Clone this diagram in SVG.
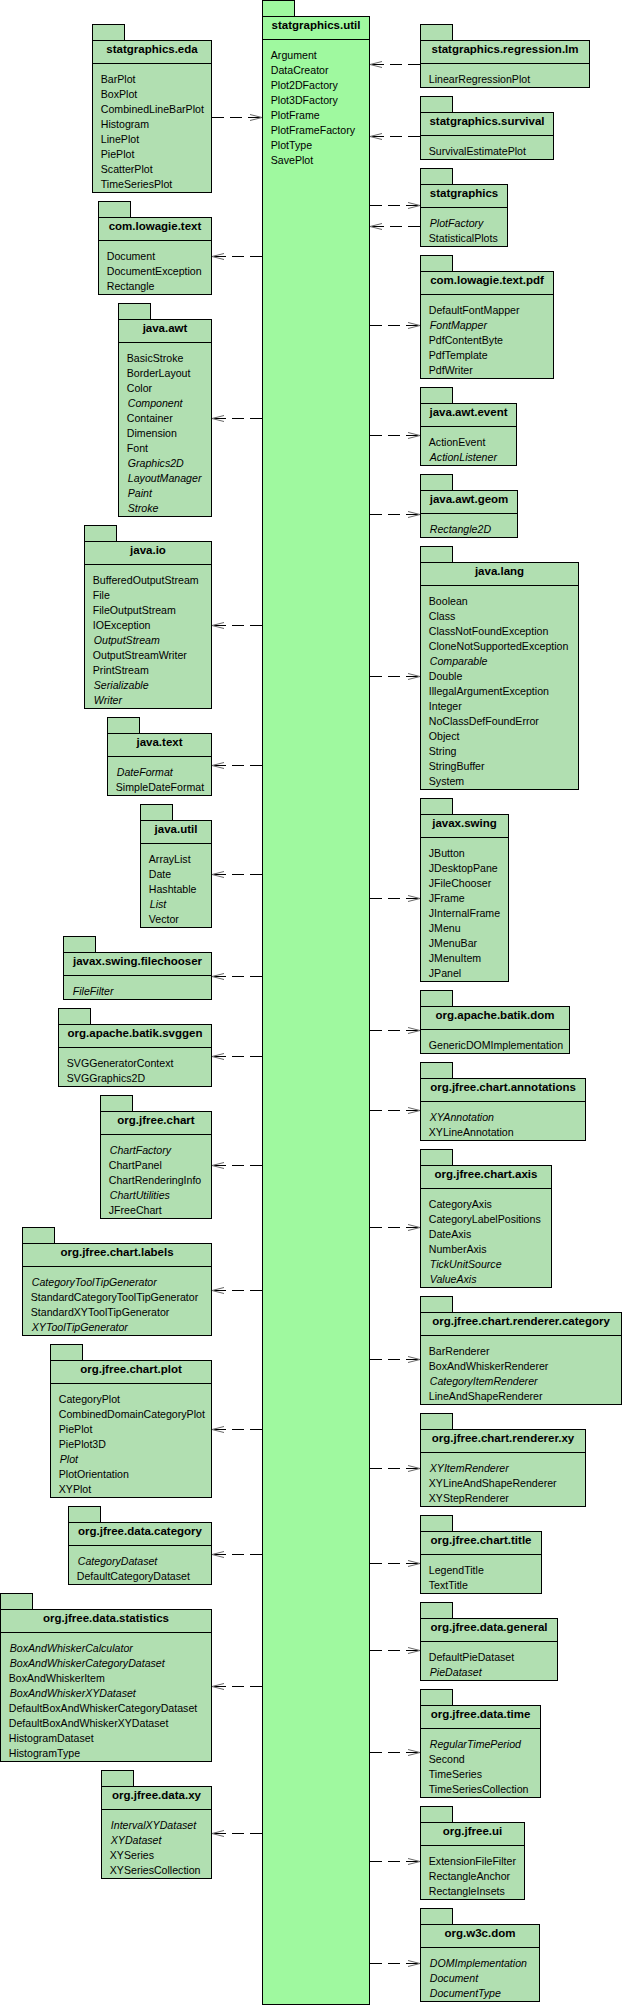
<svg xmlns="http://www.w3.org/2000/svg" width="622" height="2006" viewBox="0 0 622 2006">
<style>
.p{fill:#B1DFB1;stroke:#000;stroke-width:1}
.u{fill:#9FF99F;stroke:#000;stroke-width:1}
.s{stroke:#000;stroke-width:1}
text{font-family:"Liberation Sans",Arial,sans-serif;fill:#000}
.t{font-size:11.5px;font-weight:bold;text-anchor:middle}
.i{font-size:10.6px}
.it{font-size:10.6px;font-style:italic}
.c{stroke:#000;stroke-width:1;stroke-dasharray:12,6;fill:none;marker-end:url(#arr)}
</style>
<defs>
<marker id="arr" markerUnits="userSpaceOnUse" markerWidth="14" markerHeight="10" viewBox="0 -5 14 10" refX="12" refY="0" orient="auto">
<path d="M0,-3 L12,0 L0,3" fill="none" stroke="#666" stroke-width="1"/>
</marker>
</defs>
<rect width="622" height="2006" fill="#fff"/>

<g id="connectors">
<line class="c" x1="212" y1="117.5" x2="262" y2="117.5"/>
<line class="c" x1="262" y1="256.5" x2="212" y2="256.5"/>
<line class="c" x1="262" y1="418.5" x2="212" y2="418.5"/>
<line class="c" x1="262" y1="625.5" x2="212" y2="625.5"/>
<line class="c" x1="262" y1="765.5" x2="212" y2="765.5"/>
<line class="c" x1="262" y1="874.5" x2="212" y2="874.5"/>
<line class="c" x1="262" y1="976.5" x2="212" y2="976.5"/>
<line class="c" x1="262" y1="1056.5" x2="212" y2="1056.5"/>
<line class="c" x1="262" y1="1165.5" x2="212" y2="1165.5"/>
<line class="c" x1="262" y1="1290.5" x2="212" y2="1290.5"/>
<line class="c" x1="262" y1="1429.5" x2="212" y2="1429.5"/>
<line class="c" x1="262" y1="1554.5" x2="212" y2="1554.5"/>
<line class="c" x1="262" y1="1686.5" x2="212" y2="1686.5"/>
<line class="c" x1="262" y1="1833.5" x2="212" y2="1833.5"/>
<line class="c" x1="420" y1="64.5" x2="370" y2="64.5"/>
<line class="c" x1="420" y1="136.5" x2="370" y2="136.5"/>
<line class="c" x1="370" y1="205.5" x2="420" y2="205.5"/>
<line class="c" x1="420" y1="226.5" x2="370" y2="226.5"/>
<line class="c" x1="370" y1="325.5" x2="420" y2="325.5"/>
<line class="c" x1="370" y1="435.5" x2="420" y2="435.5"/>
<line class="c" x1="370" y1="514.5" x2="420" y2="514.5"/>
<line class="c" x1="370" y1="676.5" x2="420" y2="676.5"/>
<line class="c" x1="370" y1="898.5" x2="420" y2="898.5"/>
<line class="c" x1="370" y1="1030.5" x2="420" y2="1030.5"/>
<line class="c" x1="370" y1="1110.5" x2="420" y2="1110.5"/>
<line class="c" x1="370" y1="1227.5" x2="420" y2="1227.5"/>
<line class="c" x1="370" y1="1359.5" x2="420" y2="1359.5"/>
<line class="c" x1="370" y1="1468.5" x2="420" y2="1468.5"/>
<line class="c" x1="370" y1="1563.5" x2="420" y2="1563.5"/>
<line class="c" x1="370" y1="1650.5" x2="420" y2="1650.5"/>
<line class="c" x1="370" y1="1752.5" x2="420" y2="1752.5"/>
<line class="c" x1="370" y1="1861.5" x2="420" y2="1861.5"/>
<line class="c" x1="370" y1="1963.5" x2="420" y2="1963.5"/>
</g>

<g id="statgraphics.util">
<rect class="u" x="262.5" y="0.5" width="32" height="16"/>
<rect class="u" x="262.5" y="16.5" width="107" height="1988"/>
<line class="s" x1="262.5" y1="39.5" x2="369.5" y2="39.5"/>
<text class="t" x="316" y="29">statgraphics.util</text>
<text class="i" x="270.8" y="59">Argument</text>
<text class="i" x="270.8" y="74">DataCreator</text>
<text class="i" x="270.8" y="89">Plot2DFactory</text>
<text class="i" x="270.8" y="104">Plot3DFactory</text>
<text class="i" x="270.8" y="119">PlotFrame</text>
<text class="i" x="270.8" y="134">PlotFrameFactory</text>
<text class="i" x="270.8" y="149">PlotType</text>
<text class="i" x="270.8" y="164">SavePlot</text>
</g>

<g id="statgraphics.eda">
<rect class="p" x="92.5" y="24.5" width="32" height="16"/>
<rect class="p" x="92.5" y="40.5" width="119" height="152"/>
<line class="s" x1="92.5" y1="63.5" x2="211.5" y2="63.5"/>
<text class="t" x="152" y="53">statgraphics.eda</text>
<text class="i" x="100.8" y="83">BarPlot</text>
<text class="i" x="100.8" y="98">BoxPlot</text>
<text class="i" x="100.8" y="113">CombinedLineBarPlot</text>
<text class="i" x="100.8" y="128">Histogram</text>
<text class="i" x="100.8" y="143">LinePlot</text>
<text class="i" x="100.8" y="158">PiePlot</text>
<text class="i" x="100.8" y="173">ScatterPlot</text>
<text class="i" x="100.8" y="188">TimeSeriesPlot</text>
</g>

<g id="com.lowagie.text">
<rect class="p" x="98.5" y="201.5" width="32" height="16"/>
<rect class="p" x="98.5" y="217.5" width="113" height="77"/>
<line class="s" x1="98.5" y1="240.5" x2="211.5" y2="240.5"/>
<text class="t" x="155" y="230">com.lowagie.text</text>
<text class="i" x="106.8" y="260">Document</text>
<text class="i" x="106.8" y="275">DocumentException</text>
<text class="i" x="106.8" y="290">Rectangle</text>
</g>

<g id="java.awt">
<rect class="p" x="118.5" y="303.5" width="32" height="16"/>
<rect class="p" x="118.5" y="319.5" width="93" height="197"/>
<line class="s" x1="118.5" y1="342.5" x2="211.5" y2="342.5"/>
<text class="t" x="165" y="332">java.awt</text>
<text class="i" x="126.8" y="362">BasicStroke</text>
<text class="i" x="126.8" y="377">BorderLayout</text>
<text class="i" x="126.8" y="392">Color</text>
<text class="it" x="127.8" y="407">Component</text>
<text class="i" x="126.8" y="422">Container</text>
<text class="i" x="126.8" y="437">Dimension</text>
<text class="i" x="126.8" y="452">Font</text>
<text class="it" x="127.8" y="467">Graphics2D</text>
<text class="it" x="127.8" y="482">LayoutManager</text>
<text class="it" x="127.8" y="497">Paint</text>
<text class="it" x="127.8" y="512">Stroke</text>
</g>

<g id="java.io">
<rect class="p" x="84.5" y="525.5" width="32" height="16"/>
<rect class="p" x="84.5" y="541.5" width="127" height="167"/>
<line class="s" x1="84.5" y1="564.5" x2="211.5" y2="564.5"/>
<text class="t" x="148" y="554">java.io</text>
<text class="i" x="92.8" y="584">BufferedOutputStream</text>
<text class="i" x="92.8" y="599">File</text>
<text class="i" x="92.8" y="614">FileOutputStream</text>
<text class="i" x="92.8" y="629">IOException</text>
<text class="it" x="93.8" y="644">OutputStream</text>
<text class="i" x="92.8" y="659">OutputStreamWriter</text>
<text class="i" x="92.8" y="674">PrintStream</text>
<text class="it" x="93.8" y="689">Serializable</text>
<text class="it" x="93.8" y="704">Writer</text>
</g>

<g id="java.text">
<rect class="p" x="107.5" y="717.5" width="32" height="16"/>
<rect class="p" x="107.5" y="733.5" width="104" height="62"/>
<line class="s" x1="107.5" y1="756.5" x2="211.5" y2="756.5"/>
<text class="t" x="159.5" y="746">java.text</text>
<text class="it" x="116.8" y="776">DateFormat</text>
<text class="i" x="115.8" y="791">SimpleDateFormat</text>
</g>

<g id="java.util">
<rect class="p" x="140.5" y="804.5" width="32" height="16"/>
<rect class="p" x="140.5" y="820.5" width="71" height="107"/>
<line class="s" x1="140.5" y1="843.5" x2="211.5" y2="843.5"/>
<text class="t" x="176" y="833">java.util</text>
<text class="i" x="148.8" y="863">ArrayList</text>
<text class="i" x="148.8" y="878">Date</text>
<text class="i" x="148.8" y="893">Hashtable</text>
<text class="it" x="149.8" y="908">List</text>
<text class="i" x="148.8" y="923">Vector</text>
</g>

<g id="javax.swing.filechooser">
<rect class="p" x="63.5" y="936.5" width="32" height="16"/>
<rect class="p" x="63.5" y="952.5" width="148" height="47"/>
<line class="s" x1="63.5" y1="975.5" x2="211.5" y2="975.5"/>
<text class="t" x="137.5" y="965">javax.swing.filechooser</text>
<text class="it" x="72.8" y="995">FileFilter</text>
</g>

<g id="org.apache.batik.svggen">
<rect class="p" x="58.5" y="1008.5" width="32" height="16"/>
<rect class="p" x="58.5" y="1024.5" width="153" height="62"/>
<line class="s" x1="58.5" y1="1047.5" x2="211.5" y2="1047.5"/>
<text class="t" x="135" y="1037">org.apache.batik.svggen</text>
<text class="i" x="66.8" y="1067">SVGGeneratorContext</text>
<text class="i" x="66.8" y="1082">SVGGraphics2D</text>
</g>

<g id="org.jfree.chart">
<rect class="p" x="100.5" y="1095.5" width="32" height="16"/>
<rect class="p" x="100.5" y="1111.5" width="111" height="107"/>
<line class="s" x1="100.5" y1="1134.5" x2="211.5" y2="1134.5"/>
<text class="t" x="156" y="1124">org.jfree.chart</text>
<text class="it" x="109.8" y="1154">ChartFactory</text>
<text class="i" x="108.8" y="1169">ChartPanel</text>
<text class="i" x="108.8" y="1184">ChartRenderingInfo</text>
<text class="it" x="109.8" y="1199">ChartUtilities</text>
<text class="i" x="108.8" y="1214">JFreeChart</text>
</g>

<g id="org.jfree.chart.labels">
<rect class="p" x="22.5" y="1227.5" width="32" height="16"/>
<rect class="p" x="22.5" y="1243.5" width="189" height="92"/>
<line class="s" x1="22.5" y1="1266.5" x2="211.5" y2="1266.5"/>
<text class="t" x="117" y="1256">org.jfree.chart.labels</text>
<text class="it" x="31.8" y="1286">CategoryToolTipGenerator</text>
<text class="i" x="30.8" y="1301">StandardCategoryToolTipGenerator</text>
<text class="i" x="30.8" y="1316">StandardXYToolTipGenerator</text>
<text class="it" x="31.8" y="1331">XYToolTipGenerator</text>
</g>

<g id="org.jfree.chart.plot">
<rect class="p" x="50.5" y="1344.5" width="32" height="16"/>
<rect class="p" x="50.5" y="1360.5" width="161" height="137"/>
<line class="s" x1="50.5" y1="1383.5" x2="211.5" y2="1383.5"/>
<text class="t" x="131" y="1373">org.jfree.chart.plot</text>
<text class="i" x="58.8" y="1403">CategoryPlot</text>
<text class="i" x="58.8" y="1418">CombinedDomainCategoryPlot</text>
<text class="i" x="58.8" y="1433">PiePlot</text>
<text class="i" x="58.8" y="1448">PiePlot3D</text>
<text class="it" x="59.8" y="1463">Plot</text>
<text class="i" x="58.8" y="1478">PlotOrientation</text>
<text class="i" x="58.8" y="1493">XYPlot</text>
</g>

<g id="org.jfree.data.category">
<rect class="p" x="68.5" y="1506.5" width="32" height="16"/>
<rect class="p" x="68.5" y="1522.5" width="143" height="62"/>
<line class="s" x1="68.5" y1="1545.5" x2="211.5" y2="1545.5"/>
<text class="t" x="140" y="1535">org.jfree.data.category</text>
<text class="it" x="77.8" y="1565">CategoryDataset</text>
<text class="i" x="76.8" y="1580">DefaultCategoryDataset</text>
</g>

<g id="org.jfree.data.statistics">
<rect class="p" x="0.5" y="1593.5" width="32" height="16"/>
<rect class="p" x="0.5" y="1609.5" width="211" height="152"/>
<line class="s" x1="0.5" y1="1632.5" x2="211.5" y2="1632.5"/>
<text class="t" x="106" y="1622">org.jfree.data.statistics</text>
<text class="it" x="9.8" y="1652">BoxAndWhiskerCalculator</text>
<text class="it" x="9.8" y="1667">BoxAndWhiskerCategoryDataset</text>
<text class="i" x="8.8" y="1682">BoxAndWhiskerItem</text>
<text class="it" x="9.8" y="1697">BoxAndWhiskerXYDataset</text>
<text class="i" x="8.8" y="1712">DefaultBoxAndWhiskerCategoryDataset</text>
<text class="i" x="8.8" y="1727">DefaultBoxAndWhiskerXYDataset</text>
<text class="i" x="8.8" y="1742">HistogramDataset</text>
<text class="i" x="8.8" y="1757">HistogramType</text>
</g>

<g id="org.jfree.data.xy">
<rect class="p" x="101.5" y="1770.5" width="32" height="16"/>
<rect class="p" x="101.5" y="1786.5" width="110" height="92"/>
<line class="s" x1="101.5" y1="1809.5" x2="211.5" y2="1809.5"/>
<text class="t" x="156.5" y="1799">org.jfree.data.xy</text>
<text class="it" x="110.8" y="1829">IntervalXYDataset</text>
<text class="it" x="110.8" y="1844">XYDataset</text>
<text class="i" x="109.8" y="1859">XYSeries</text>
<text class="i" x="109.8" y="1874">XYSeriesCollection</text>
</g>

<g id="statgraphics.regression.lm">
<rect class="p" x="420.5" y="24.5" width="32" height="16"/>
<rect class="p" x="420.5" y="40.5" width="169" height="47"/>
<line class="s" x1="420.5" y1="63.5" x2="589.5" y2="63.5"/>
<text class="t" x="505" y="53">statgraphics.regression.lm</text>
<text class="i" x="428.8" y="83">LinearRegressionPlot</text>
</g>

<g id="statgraphics.survival">
<rect class="p" x="420.5" y="96.5" width="32" height="16"/>
<rect class="p" x="420.5" y="112.5" width="133" height="47"/>
<line class="s" x1="420.5" y1="135.5" x2="553.5" y2="135.5"/>
<text class="t" x="487" y="125">statgraphics.survival</text>
<text class="i" x="428.8" y="155">SurvivalEstimatePlot</text>
</g>

<g id="statgraphics">
<rect class="p" x="420.5" y="168.5" width="32" height="16"/>
<rect class="p" x="420.5" y="184.5" width="87" height="62"/>
<line class="s" x1="420.5" y1="207.5" x2="507.5" y2="207.5"/>
<text class="t" x="464" y="197">statgraphics</text>
<text class="it" x="429.8" y="227">PlotFactory</text>
<text class="i" x="428.8" y="242">StatisticalPlots</text>
</g>

<g id="com.lowagie.text.pdf">
<rect class="p" x="420.5" y="255.5" width="32" height="16"/>
<rect class="p" x="420.5" y="271.5" width="133" height="107"/>
<line class="s" x1="420.5" y1="294.5" x2="553.5" y2="294.5"/>
<text class="t" x="487" y="284">com.lowagie.text.pdf</text>
<text class="i" x="428.8" y="314">DefaultFontMapper</text>
<text class="it" x="429.8" y="329">FontMapper</text>
<text class="i" x="428.8" y="344">PdfContentByte</text>
<text class="i" x="428.8" y="359">PdfTemplate</text>
<text class="i" x="428.8" y="374">PdfWriter</text>
</g>

<g id="java.awt.event">
<rect class="p" x="420.5" y="387.5" width="32" height="16"/>
<rect class="p" x="420.5" y="403.5" width="96" height="62"/>
<line class="s" x1="420.5" y1="426.5" x2="516.5" y2="426.5"/>
<text class="t" x="468.5" y="416">java.awt.event</text>
<text class="i" x="428.8" y="446">ActionEvent</text>
<text class="it" x="429.8" y="461">ActionListener</text>
</g>

<g id="java.awt.geom">
<rect class="p" x="420.5" y="474.5" width="32" height="16"/>
<rect class="p" x="420.5" y="490.5" width="97" height="47"/>
<line class="s" x1="420.5" y1="513.5" x2="517.5" y2="513.5"/>
<text class="t" x="469" y="503">java.awt.geom</text>
<text class="it" x="429.8" y="533">Rectangle2D</text>
</g>

<g id="java.lang">
<rect class="p" x="420.5" y="546.5" width="32" height="16"/>
<rect class="p" x="420.5" y="562.5" width="158" height="227"/>
<line class="s" x1="420.5" y1="585.5" x2="578.5" y2="585.5"/>
<text class="t" x="499.5" y="575">java.lang</text>
<text class="i" x="428.8" y="605">Boolean</text>
<text class="i" x="428.8" y="620">Class</text>
<text class="i" x="428.8" y="635">ClassNotFoundException</text>
<text class="i" x="428.8" y="650">CloneNotSupportedException</text>
<text class="it" x="429.8" y="665">Comparable</text>
<text class="i" x="428.8" y="680">Double</text>
<text class="i" x="428.8" y="695">IllegalArgumentException</text>
<text class="i" x="428.8" y="710">Integer</text>
<text class="i" x="428.8" y="725">NoClassDefFoundError</text>
<text class="i" x="428.8" y="740">Object</text>
<text class="i" x="428.8" y="755">String</text>
<text class="i" x="428.8" y="770">StringBuffer</text>
<text class="i" x="428.8" y="785">System</text>
</g>

<g id="javax.swing">
<rect class="p" x="420.5" y="798.5" width="32" height="16"/>
<rect class="p" x="420.5" y="814.5" width="88" height="167"/>
<line class="s" x1="420.5" y1="837.5" x2="508.5" y2="837.5"/>
<text class="t" x="464.5" y="827">javax.swing</text>
<text class="i" x="428.8" y="857">JButton</text>
<text class="i" x="428.8" y="872">JDesktopPane</text>
<text class="i" x="428.8" y="887">JFileChooser</text>
<text class="i" x="428.8" y="902">JFrame</text>
<text class="i" x="428.8" y="917">JInternalFrame</text>
<text class="i" x="428.8" y="932">JMenu</text>
<text class="i" x="428.8" y="947">JMenuBar</text>
<text class="i" x="428.8" y="962">JMenuItem</text>
<text class="i" x="428.8" y="977">JPanel</text>
</g>

<g id="org.apache.batik.dom">
<rect class="p" x="420.5" y="990.5" width="32" height="16"/>
<rect class="p" x="420.5" y="1006.5" width="149" height="47"/>
<line class="s" x1="420.5" y1="1029.5" x2="569.5" y2="1029.5"/>
<text class="t" x="495" y="1019">org.apache.batik.dom</text>
<text class="i" x="428.8" y="1049">GenericDOMImplementation</text>
</g>

<g id="org.jfree.chart.annotations">
<rect class="p" x="420.5" y="1062.5" width="32" height="16"/>
<rect class="p" x="420.5" y="1078.5" width="165" height="62"/>
<line class="s" x1="420.5" y1="1101.5" x2="585.5" y2="1101.5"/>
<text class="t" x="503" y="1091">org.jfree.chart.annotations</text>
<text class="it" x="429.8" y="1121">XYAnnotation</text>
<text class="i" x="428.8" y="1136">XYLineAnnotation</text>
</g>

<g id="org.jfree.chart.axis">
<rect class="p" x="420.5" y="1149.5" width="32" height="16"/>
<rect class="p" x="420.5" y="1165.5" width="131" height="122"/>
<line class="s" x1="420.5" y1="1188.5" x2="551.5" y2="1188.5"/>
<text class="t" x="486" y="1178">org.jfree.chart.axis</text>
<text class="i" x="428.8" y="1208">CategoryAxis</text>
<text class="i" x="428.8" y="1223">CategoryLabelPositions</text>
<text class="i" x="428.8" y="1238">DateAxis</text>
<text class="i" x="428.8" y="1253">NumberAxis</text>
<text class="it" x="429.8" y="1268">TickUnitSource</text>
<text class="it" x="429.8" y="1283">ValueAxis</text>
</g>

<g id="org.jfree.chart.renderer.category">
<rect class="p" x="420.5" y="1296.5" width="32" height="16"/>
<rect class="p" x="420.5" y="1312.5" width="201" height="92"/>
<line class="s" x1="420.5" y1="1335.5" x2="621.5" y2="1335.5"/>
<text class="t" x="521" y="1325">org.jfree.chart.renderer.category</text>
<text class="i" x="428.8" y="1355">BarRenderer</text>
<text class="i" x="428.8" y="1370">BoxAndWhiskerRenderer</text>
<text class="it" x="429.8" y="1385">CategoryItemRenderer</text>
<text class="i" x="428.8" y="1400">LineAndShapeRenderer</text>
</g>

<g id="org.jfree.chart.renderer.xy">
<rect class="p" x="420.5" y="1413.5" width="32" height="16"/>
<rect class="p" x="420.5" y="1429.5" width="165" height="77"/>
<line class="s" x1="420.5" y1="1452.5" x2="585.5" y2="1452.5"/>
<text class="t" x="503" y="1442">org.jfree.chart.renderer.xy</text>
<text class="it" x="429.8" y="1472">XYItemRenderer</text>
<text class="i" x="428.8" y="1487">XYLineAndShapeRenderer</text>
<text class="i" x="428.8" y="1502">XYStepRenderer</text>
</g>

<g id="org.jfree.chart.title">
<rect class="p" x="420.5" y="1515.5" width="32" height="16"/>
<rect class="p" x="420.5" y="1531.5" width="121" height="62"/>
<line class="s" x1="420.5" y1="1554.5" x2="541.5" y2="1554.5"/>
<text class="t" x="481" y="1544">org.jfree.chart.title</text>
<text class="i" x="428.8" y="1574">LegendTitle</text>
<text class="i" x="428.8" y="1589">TextTitle</text>
</g>

<g id="org.jfree.data.general">
<rect class="p" x="420.5" y="1602.5" width="32" height="16"/>
<rect class="p" x="420.5" y="1618.5" width="137" height="62"/>
<line class="s" x1="420.5" y1="1641.5" x2="557.5" y2="1641.5"/>
<text class="t" x="489" y="1631">org.jfree.data.general</text>
<text class="i" x="428.8" y="1661">DefaultPieDataset</text>
<text class="it" x="429.8" y="1676">PieDataset</text>
</g>

<g id="org.jfree.data.time">
<rect class="p" x="420.5" y="1689.5" width="32" height="16"/>
<rect class="p" x="420.5" y="1705.5" width="120" height="92"/>
<line class="s" x1="420.5" y1="1728.5" x2="540.5" y2="1728.5"/>
<text class="t" x="480.5" y="1718">org.jfree.data.time</text>
<text class="it" x="429.8" y="1748">RegularTimePeriod</text>
<text class="i" x="428.8" y="1763">Second</text>
<text class="i" x="428.8" y="1778">TimeSeries</text>
<text class="i" x="428.8" y="1793">TimeSeriesCollection</text>
</g>

<g id="org.jfree.ui">
<rect class="p" x="420.5" y="1806.5" width="32" height="16"/>
<rect class="p" x="420.5" y="1822.5" width="104" height="77"/>
<line class="s" x1="420.5" y1="1845.5" x2="524.5" y2="1845.5"/>
<text class="t" x="472.5" y="1835">org.jfree.ui</text>
<text class="i" x="428.8" y="1865">ExtensionFileFilter</text>
<text class="i" x="428.8" y="1880">RectangleAnchor</text>
<text class="i" x="428.8" y="1895">RectangleInsets</text>
</g>

<g id="org.w3c.dom">
<rect class="p" x="420.5" y="1908.5" width="32" height="16"/>
<rect class="p" x="420.5" y="1924.5" width="119" height="77"/>
<line class="s" x1="420.5" y1="1947.5" x2="539.5" y2="1947.5"/>
<text class="t" x="480" y="1937">org.w3c.dom</text>
<text class="it" x="429.8" y="1967">DOMImplementation</text>
<text class="it" x="429.8" y="1982">Document</text>
<text class="it" x="429.8" y="1997">DocumentType</text>
</g>
</svg>
